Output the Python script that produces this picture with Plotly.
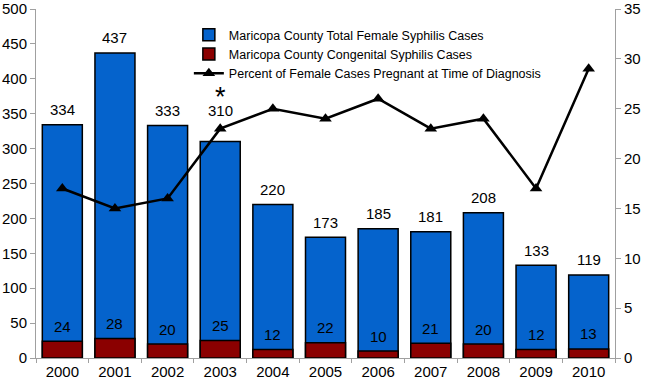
import plotly.graph_objects as go

years = ["2000", "2001", "2002", "2003", "2004", "2005", "2006", "2007", "2008", "2009", "2010"]
total_female = [334, 437, 333, 310, 220, 173, 185, 181, 208, 133, 119]
congenital = [24, 28, 20, 25, 12, 22, 10, 21, 20, 12, 13]
pct_pregnant = [17, 15, 16, 23, 25, 24, 26, 23, 24, 17, 29]
starred_year = "2003"

# style: label centre offsets above the bar top (px)
TOTAL_OFFSET = 15
label_lift = {"2003": 16}
STAR_OFFSET = 45

FONT = "Liberation Sans, Arial, sans-serif"
BLUE = "#0563CC"
RED = "#8B0000"
GREY = "#A0A0A0"

fig = go.Figure()
fig.add_trace(go.Bar(
    x=years, y=total_female, name="Maricopa County Total Female Syphilis Cases",
    marker=dict(color=BLUE, line=dict(color="black", width=1.5)),
))
fig.add_trace(go.Bar(
    x=years, y=congenital, name="Maricopa County Congenital Syphilis Cases",
    marker=dict(color=RED, line=dict(color="black", width=1.5)),
))
fig.add_trace(go.Scatter(
    x=years, y=pct_pregnant, yaxis="y2", mode="lines+markers",
    name="Percent of Female Cases Pregnant at Time of Diagnosis",
    line=dict(color="black", width=2.5),
    marker=dict(symbol="triangle-up", size=11, color="black"),
))

# category axes: annotation x is the category index
annotations = []
for i, (yr, v) in enumerate(zip(years, total_female)):
    annotations.append(dict(x=i, y=v, xref="x", yref="y", text=str(v), showarrow=False,
                            yanchor="middle", yshift=TOTAL_OFFSET + label_lift.get(yr, 0),
                            font=dict(size=15, color="black", family=FONT)))
for i, v in enumerate(congenital):
    annotations.append(dict(x=i, y=v, xref="x", yref="y", text=str(v), showarrow=False,
                            yanchor="middle", yshift=TOTAL_OFFSET, font=dict(size=15, color="black", family=FONT)))
si = years.index(starred_year)
annotations.append(dict(x=si, y=total_female[si], xref="x", yref="y",
                        text="*", showarrow=False, yanchor="middle", yshift=STAR_OFFSET,
                        font=dict(size=27, color="black", family=FONT)))

fig.update_layout(
    width=645, height=378,
    margin=dict(l=36, r=30, t=9, b=20, autoexpand=False),
    paper_bgcolor="white", plot_bgcolor="white",
    barmode="overlay", bargap=0.24,
    font=dict(family=FONT, size=15, color="black"),
    showlegend=True,
    legend=dict(x=0.264, y=0.968, xanchor="left", yanchor="top",
                bgcolor="rgba(0,0,0,0)", font=dict(size=12.5, family=FONT),
                tracegroupgap=0, itemwidth=30),
    annotations=annotations,
    xaxis=dict(type="category", range=[-0.5, len(years) - 0.5],
               showline=True, linecolor=GREY, linewidth=1, ticks="outside", tickcolor=GREY,
               ticklen=4, tickson="boundaries", showgrid=False, zeroline=False,
               tickfont=dict(size=15), tickangle=0, automargin=False),
    yaxis=dict(range=[0, 500], dtick=50, showline=True, linecolor=GREY, linewidth=1,
               ticks="outside", tickcolor=GREY, ticklen=5, showgrid=False, zeroline=False,
               tickfont=dict(size=15), automargin=False),
    yaxis2=dict(range=[0, 35], dtick=5, overlaying="y", side="right", showline=True,
                linecolor=GREY, linewidth=1, ticks="outside", tickcolor=GREY, ticklen=5,
                showgrid=False, zeroline=False, tickfont=dict(size=15), automargin=False),
)

fig.write_html("out.html", config={"displayModeBar": False},
               post_script="document.body.style.margin='0';document.body.style.overflow='hidden';")
